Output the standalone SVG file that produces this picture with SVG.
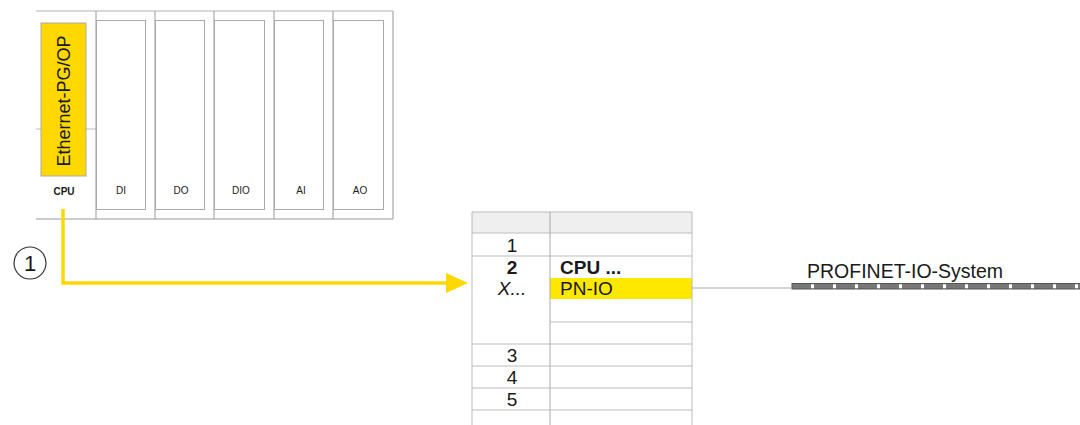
<svg xmlns="http://www.w3.org/2000/svg" width="1080" height="425" viewBox="0 0 1080 425">
<style>
.t{font-family:"Liberation Sans",Arial,sans-serif;fill:#1a1a1a}
.ml{font-size:10px;text-anchor:middle}
.mod{stroke:#999;stroke-width:1;fill:none}
.inner{stroke:#aaa;stroke-width:1;fill:#fff}
.tl{stroke:#bbb;stroke-width:1;fill:none}
.tn{font-size:19px;text-anchor:middle}
</style>
<rect width="1080" height="425" fill="#fff"/>
<g id="rack">
<line x1="36" y1="11" x2="393" y2="11" stroke="#ccc" stroke-width="1.5"/>
<line x1="36" y1="219" x2="393" y2="219" stroke="#bbb" stroke-width="1.5"/>
<line x1="393" y1="11" x2="393" y2="219" class="mod"/>
</g>
<g id="cpu">
<line x1="36" y1="129" x2="96" y2="129" stroke="#bbb"/>
<rect x="41" y="23" width="45" height="153" fill="#FFD800" stroke="#aaa"/>
<text class="t" x="0" y="0" font-size="18" text-anchor="middle" transform="translate(70,101) rotate(-90)">Ethernet-PG/OP</text>
<text class="t ml" x="64" y="195" font-weight="bold">CPU</text>
</g>
<g id="di">
<line x1="96" y1="11" x2="96" y2="219" class="mod"/>
<rect x="96.5" y="20.5" width="49" height="189" class="inner"/>
<text class="t ml" x="121" y="194">DI</text>
</g>
<g id="do">
<line x1="155" y1="11" x2="155" y2="219" class="mod"/>
<rect x="155.5" y="20.5" width="49" height="189" class="inner"/>
<text class="t ml" x="181" y="194">DO</text>
</g>
<g id="dio">
<line x1="214" y1="11" x2="214" y2="219" class="mod"/>
<rect x="214.5" y="20.5" width="50" height="189" class="inner"/>
<text class="t ml" x="241" y="194">DIO</text>
</g>
<g id="ai">
<line x1="274" y1="11" x2="274" y2="219" class="mod"/>
<rect x="274.5" y="20.5" width="49" height="189" class="inner"/>
<text class="t ml" x="301" y="194">AI</text>
</g>
<g id="ao">
<line x1="333" y1="11" x2="333" y2="219" class="mod"/>
<rect x="333.5" y="20.5" width="50" height="189" class="inner"/>
<text class="t ml" x="360" y="194">AO</text>
</g>
<g id="marker1">
<circle cx="30" cy="263" r="16" fill="#fff" stroke="#333" stroke-width="1.2"/>
<text class="t" x="30" y="271" font-size="22" text-anchor="middle">1</text>
</g>
<g id="table">
<rect x="472" y="212" width="220" height="21" fill="#efefef"/>
<rect x="550" y="278" width="142" height="21" fill="#FFE800"/>
<line x1="472" y1="212" x2="692" y2="212" class="tl"/>
<line x1="472" y1="212" x2="472" y2="425" class="tl"/>
<line x1="692" y1="212" x2="692" y2="425" class="tl"/>
<line x1="550" y1="212" x2="550" y2="425" stroke="#aaa"/>
<line x1="472" y1="233" x2="692" y2="233" class="tl"/>
<line x1="472" y1="256" x2="692" y2="256" class="tl"/>
<line x1="550" y1="322" x2="692" y2="322" class="tl"/>
<line x1="472" y1="344" x2="692" y2="344" class="tl"/>
<line x1="472" y1="366" x2="692" y2="366" class="tl"/>
<line x1="472" y1="388" x2="692" y2="388" class="tl"/>
<line x1="472" y1="410" x2="692" y2="410" class="tl"/>
<text class="t tn" x="512" y="252">1</text>
<text class="t tn" x="512" y="274" font-weight="bold">2</text>
<text class="t tn" x="512" y="295" font-style="italic">X...</text>
<text class="t" x="560" y="274" font-size="19" font-weight="bold">CPU ...</text>
<text class="t" x="560" y="295" font-size="19">PN-IO</text>
<text class="t tn" x="512" y="362">3</text>
<text class="t tn" x="512" y="384">4</text>
<text class="t tn" x="512" y="406">5</text>
</g>
<g id="profinet">
<text class="t" x="807" y="278" font-size="19.5">PROFINET-IO-System</text>
<rect x="792" y="283.5" width="290" height="5.5" fill="#777" stroke="#555" stroke-width="1"/>
<line x1="792" y1="286.2" x2="1080" y2="286.2" stroke="#fff" stroke-width="4" stroke-dasharray="0 19 3 0"/>
</g>
<g id="connectors">
<polyline points="63,209 63,283 450,283" fill="none" stroke="#FFD800" stroke-width="3.5"/>
<path d="M446,273 L468,283 L446,293 Z" fill="#FFD800"/>
<line x1="692" y1="288" x2="792" y2="288" stroke="#aaa" stroke-width="1.2"/>
</g>
</svg>
